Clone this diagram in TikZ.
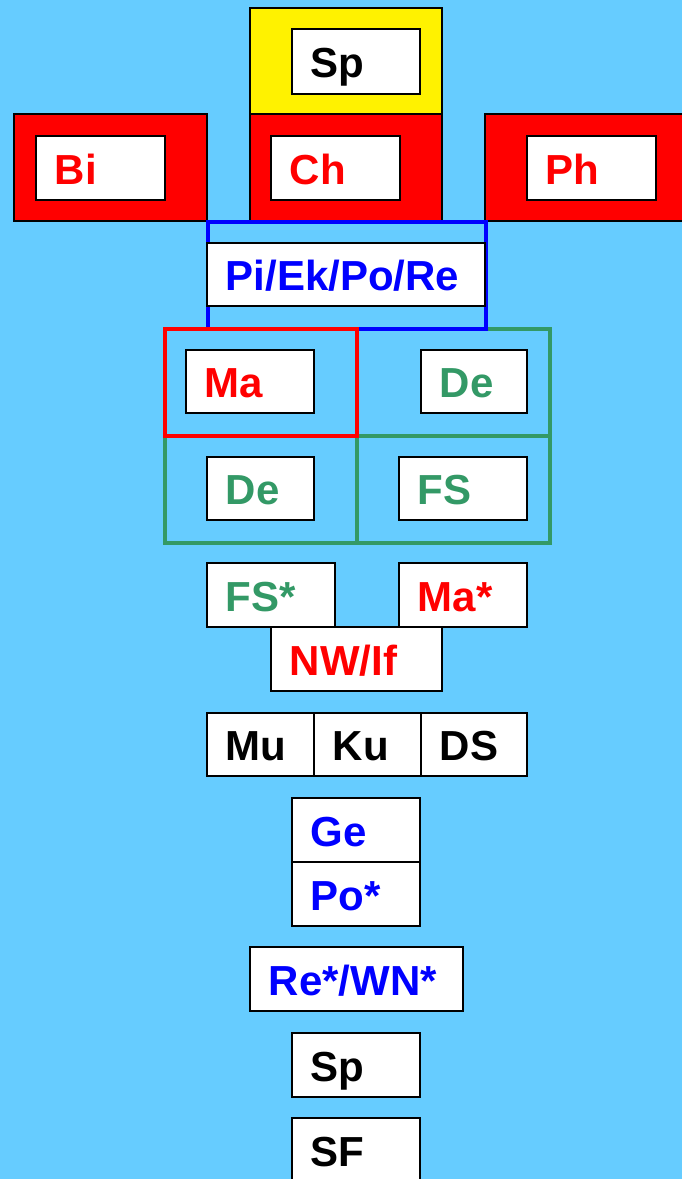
\documentclass[tikz,border=0pt]{standalone}
\usepackage{fontspec}
\setmainfont{Liberation Sans}
\definecolor{bg}{HTML}{66CCFF}
\definecolor{grn}{HTML}{339966}
\tikzset{
  wbox/.style={draw=black, fill=white, line width=1.5pt, rectangle, inner xsep=19pt, inner ysep=0pt,
    text height=33pt, text depth=0pt, align=left, font=\bfseries\fontsize{42}{42}\selectfont, anchor=north west},
  obox/.style={draw=black, line width=1.5pt, rectangle, anchor=north west, inner sep=0pt},
  frame/.style={line width=4pt, rectangle, anchor=north west, inner sep=0pt},
}
\begin{document}
\begin{tikzpicture}[x=1pt,y=-1pt]
\useasboundingbox (0,0) rectangle (682,1179);
\clip (0,0) rectangle (682,1179);
\fill[bg] (0,0) rectangle (682,1179);
% outer coloured boxes
\node[obox, fill=yellow, minimum width=192pt, minimum height=106pt] (spo) at (249,7) {};
\node[obox, fill=red, minimum width=193pt, minimum height=107pt] (bio) at (13,113) {};
\node[obox, fill=red, minimum width=192pt, minimum height=107pt] (cho) at (249,113) {};
\node[obox, fill=red, minimum width=220pt, minimum height=107pt] (pho) at (484,113) {};
% frames
\node[frame, draw=grn, minimum width=193pt, minimum height=107pt] (g1) at (355,327) {};
\node[frame, draw=grn, minimum width=192pt, minimum height=107pt] (g2) at (163,434) {};
\node[frame, draw=grn, minimum width=193pt, minimum height=107pt] (g3) at (355,434) {};
\node[frame, draw=blue, minimum width=278pt, minimum height=107pt] (bf) at (206,220) {};
\node[frame, draw=red, minimum width=192pt, minimum height=107pt] (rf) at (163,327) {};
% white boxes
\node[wbox, text=black, minimum width=128pt, minimum height=65pt, text width=90pt] (sp1) at (291,28) {Sp};
\node[wbox, text=red, minimum width=129pt, minimum height=64pt, text width=91pt] (bi) at (35,135) {Bi};
\node[wbox, text=red, minimum width=129pt, minimum height=64pt, text width=91pt] (ch) at (270,135) {Ch};
\node[wbox, text=red, minimum width=129pt, minimum height=64pt, text width=91pt] (ph) at (526,135) {Ph};
\node[wbox, text=blue, minimum width=278pt, minimum height=63pt, text width=240pt] (pi) at (206,242) {Pi/Ek/Po/Re};
\node[wbox, text=red, minimum width=128pt, minimum height=63pt, text width=90pt] (ma) at (185,349) {Ma};
\node[wbox, text=grn, minimum width=106pt, minimum height=63pt, text width=68pt] (de1) at (420,349) {De};
\node[wbox, text=grn, minimum width=107pt, minimum height=63pt, text width=69pt] (de2) at (206,456) {De};
\node[wbox, text=grn, minimum width=128pt, minimum height=63pt, text width=90pt] (fs) at (398,456) {FS};
\node[wbox, text=grn, minimum width=128pt, minimum height=64pt, text width=90pt] (fss) at (206,562) {FS*};
\node[wbox, text=red, minimum width=128pt, minimum height=64pt, text width=90pt] (mas) at (398,562) {Ma*};
\node[wbox, text=red, minimum width=171pt, minimum height=64pt, text width=133pt] (nw) at (270,626) {NW/If};
\node[wbox, text=black, minimum width=107pt, minimum height=63pt, text width=69pt] (mu) at (206,712) {Mu};
\node[wbox, text=black, minimum width=107pt, minimum height=63pt, text width=69pt] (ku) at (313,712) {Ku};
\node[wbox, text=black, minimum width=106pt, minimum height=63pt, text width=68pt] (ds) at (420,712) {DS};
\node[wbox, text=blue, minimum width=128pt, minimum height=64pt, text width=90pt] (ge) at (291,797) {Ge};
\node[wbox, text=blue, minimum width=128pt, minimum height=64pt, text width=90pt] (po) at (291,861) {Po*};
\node[wbox, text=blue, minimum width=213pt, minimum height=64pt, text width=175pt] (re) at (249,946) {Re*/WN*};
\node[wbox, text=black, minimum width=128pt, minimum height=64pt, text width=90pt] (sp2) at (291,1032) {Sp};
\node[wbox, text=black, minimum width=128pt, minimum height=64pt, text width=90pt] (sf) at (291,1117) {SF};
\end{tikzpicture}
\end{document}
